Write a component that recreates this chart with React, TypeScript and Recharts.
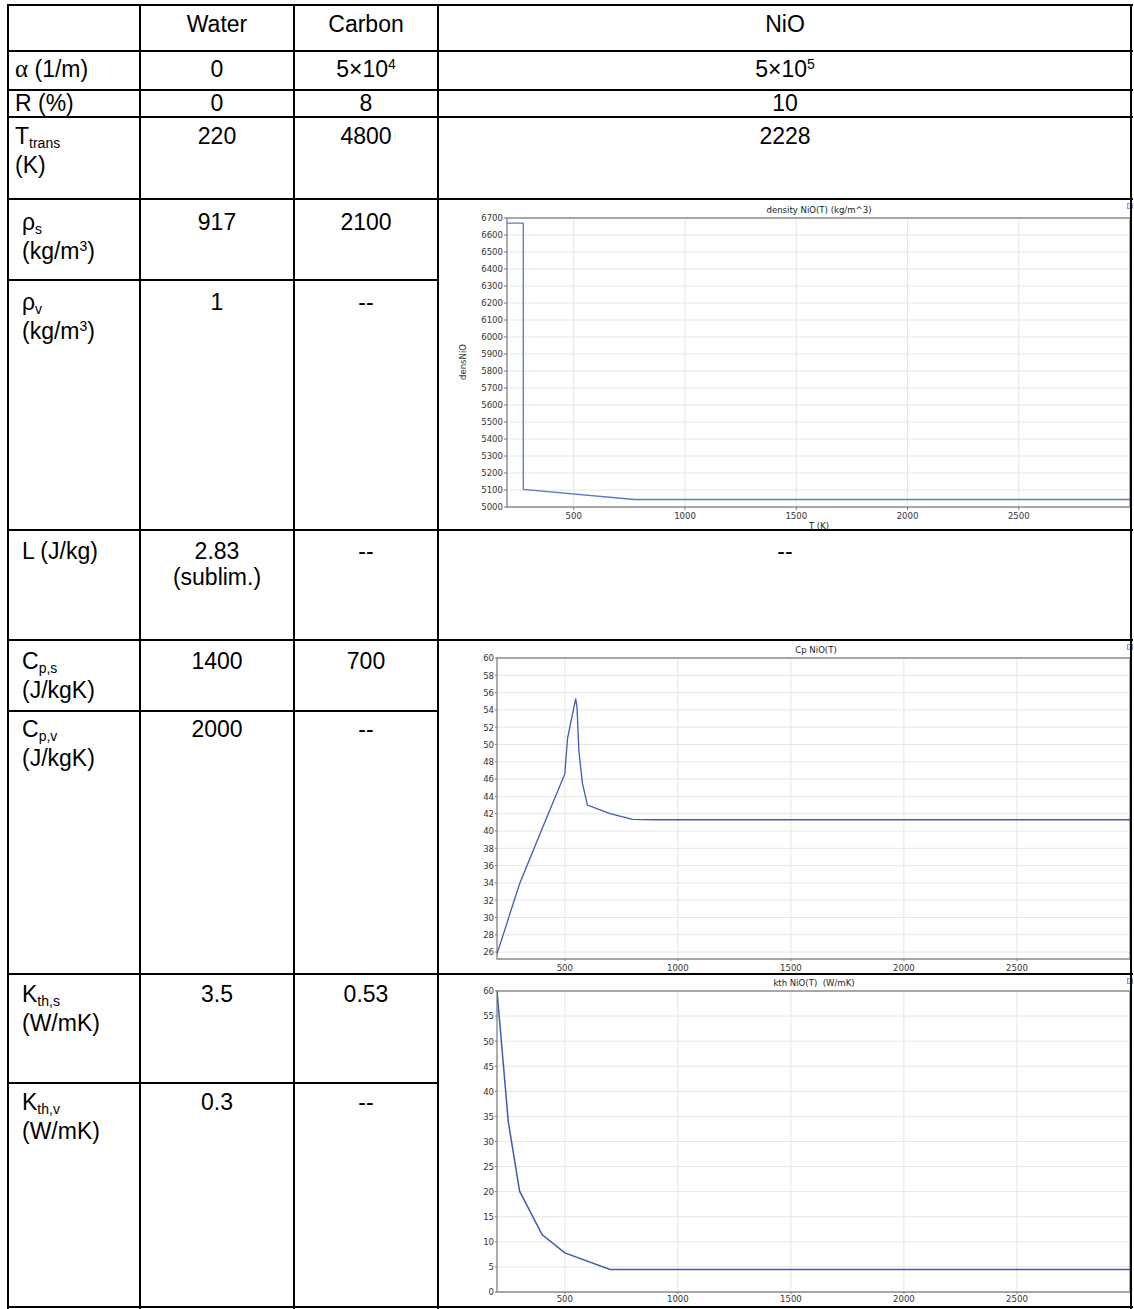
import React from 'react';
import { LineChart, Line, XAxis, YAxis, CartesianGrid, ReferenceArea } from 'recharts';

// ---------- table content ----------
const headers = ['', 'Water', 'Carbon', 'NiO'];
const rowLabels = [
  'α (1/m)',
  'R (%)',
  'T_{trans}|(K)',
  'ρ_{s}|(kg/m^{3})',
  'ρ_{v}|(kg/m^{3})',
  'L (J/kg)',
  'C_{p,s}|(J/kgK)',
  'C_{p,v}|(J/kgK)',
  'K_{th,s}|(W/mK)',
  'K_{th,v}|(W/mK)',
];
const waterValues = ['0', '0', '220', '917', '1', '2.83|(sublim.)', '1400', '2000', '3.5', '0.3'];
const carbonValues = ['5×10^{4}', '8', '4800', '2100', '--', '--', '700', '--', '0.53', '--'];
const nioValues = ['5×10^{5}', '10', '2228', '', '', '--', '', '', '', ''];

// ---------- chart data (T in K) ----------
const densityT = [200, 273, 273, 773, 3000];
const densityV = [6670, 6670, 5103, 5044, 5044];
const cpT = [200, 300, 400, 500, 512, 548, 554, 562, 578, 600, 700, 800, 900, 3000];
const cpV = [25.8, 33.9, 40.3, 46.6, 50.7, 55.3, 54.3, 49.3, 45.5, 43.0, 42.0, 41.35, 41.3, 41.3];
const kthT = [200, 250, 300, 400, 500, 700, 3000];
const kthV = [60, 33.9, 20.1, 11.4, 7.8, 4.5, 4.5];

const tTicks = [500, 1000, 1500, 2000, 2500];
const densTicks = [5000, 5100, 5200, 5300, 5400, 5500, 5600, 5700, 5800, 5900, 6000, 6100, 6200, 6300, 6400, 6500, 6600, 6700];
const cpTicks = [26, 28, 30, 32, 34, 36, 38, 40, 42, 44, 46, 48, 50, 52, 54, 56, 58, 60];
const kthTicks = [0, 5, 10, 15, 20, 25, 30, 35, 40, 45, 50, 55, 60];

const zip = (xs: number[], ys: number[]) => xs.map((T, i) => ({ T, v: ys[i] }));
const densityData = zip(densityT, densityV);
const cpData = zip(cpT, cpV);
const kthData = zip(kthT, kthV);

// ---------- layout ----------
const textTops = [55.5, 90, 122.5, 208.5, 288.5, 537.5, 647.5, 715.5, 980.5, 1088.5];
const headerTop = 10.5;
const hFull = [5, 51, 90, 117, 199, 530, 640, 974, 1307];
const hPartial = [280, 711, 1083];
const vLines = [8, 140, 294, 438, 1131];
const colCenters = [0, 217, 366, 785];
const labelX = [15, 15, 15, 22, 22, 22, 22, 22, 22, 22];

const CHART_FONT = "'DejaVu Sans Condensed', 'DejaVu Sans', sans-serif";
const LINE_COLOR = '#3d5db3';

function rich(s: string) {
  const lines = s.split('|');
  return lines.map((ln, li) => {
    const parts = ln.split(/(_\{[^}]*\}|\^\{[^}]*\}|α)/).filter((p) => p !== '');
    return (
      <div key={li} style={{ whiteSpace: 'pre' }}>
        {parts.map((p, i) => {
          if (p.startsWith('_{'))
            return (
              <span key={i} style={{ fontSize: 14, position: 'relative', top: 4 }}>
                {p.slice(2, -1)}
              </span>
            );
          if (p.startsWith('^{'))
            return (
              <span key={i} style={{ fontSize: 14, position: 'relative', top: -8 }}>
                {p.slice(2, -1)}
              </span>
            );
          if (p === 'α')
            return (
              <span key={i} style={{ fontFamily: "'Liberation Serif', 'Times New Roman', serif", fontSize: 25 }}>
                α
              </span>
            );
          return <span key={i}>{p}</span>;
        })}
      </div>
    );
  });
}

const textBase: React.CSSProperties = {
  position: 'absolute',
  fontSize: 23,
  lineHeight: '26px',
};

function CenterText({ x, top, s, w }: { x: number; top: number; s: string; w: number }) {
  return (
    <div style={{ ...textBase, left: x - w / 2, width: w, top, textAlign: 'center' }}>{rich(s)}</div>
  );
}

const tickStyle = { fontSize: 9.5, fill: '#333', fontFamily: CHART_FONT };

function Title({ x, y, text }: { x: number; y: number; text: string }) {
  return (
    <div
      style={{
        position: 'absolute',
        left: x - 150,
        width: 300,
        top: y - 7,
        textAlign: 'center',
        fontSize: 9.5,
        lineHeight: '14px',
        fontFamily: CHART_FONT,
        color: '#222',
        whiteSpace: 'pre',
      }}
    >
      {text}
    </div>
  );
}

function Icon({ x, y }: { x: number; y: number }) {
  return (
    <div
      style={{
        position: 'absolute',
        left: x,
        top: y,
        width: 4,
        height: 4,
        border: '1px solid #7f9fd0',
        background: '#dfe8f6',
      }}
    />
  );
}

export default function App() {
  return (
    <div
      style={{
        position: 'absolute',
        left: 0,
        top: 0,
        width: 1134,
        height: 1309,
        background: '#fff',
        fontFamily: "'Liberation Sans', Arial, sans-serif",
        color: '#000',
        overflow: 'hidden',
      }}
    >
      {/* charts */}
      <div style={{ position: 'absolute', left: 440, top: 201 }}>
        <LineChart width={692} height={329} data={densityData} margin={{ top: 17, right: 2, bottom: 0, left: 0 }}>
          <CartesianGrid stroke="#e6e6e6" />
          <XAxis
            type="number"
            dataKey="T"
            domain={[200, 3000]}
            ticks={tTicks}
            interval={0}
            allowDataOverflow
            height={23}
            tick={tickStyle}
            tickSize={3}
            tickMargin={2}
            axisLine={false}
            stroke="#777"
          />
          <YAxis
            type="number"
            domain={[5000, 6700]}
            ticks={densTicks}
            interval={0}
            allowDataOverflow
            width={67}
            tick={tickStyle}
            tickSize={3}
            tickMargin={1}
            axisLine={false}
            stroke="#777"
          />
          <ReferenceArea x1={200} x2={3000} y1={5000} y2={6700} fill="none" stroke="#8f8f8f" strokeWidth={1.4} />
          <Line type="linear" dataKey="v" stroke="#5a7ac8" strokeWidth={1.3} dot={false} isAnimationActive={false} />
        </LineChart>
      </div>

      <div style={{ position: 'absolute', left: 440, top: 641 }}>
        <LineChart width={692} height={333} data={cpData} margin={{ top: 17, right: 2, bottom: 0, left: 0 }}>
          <CartesianGrid stroke="#e6e6e6" />
          <XAxis
            type="number"
            dataKey="T"
            domain={[200, 3000]}
            ticks={tTicks}
            interval={0}
            allowDataOverflow
            height={15}
            tick={tickStyle}
            tickSize={2}
            tickMargin={3}
            axisLine={false}
            stroke="#777"
          />
          <YAxis
            type="number"
            domain={[25.2, 60]}
            ticks={cpTicks}
            interval={0}
            allowDataOverflow
            width={57}
            tick={tickStyle}
            tickSize={2}
            tickMargin={1}
            axisLine={false}
            stroke="#777"
          />
          <ReferenceArea x1={200} x2={3000} y1={25.2} y2={60} fill="none" stroke="#8f8f8f" strokeWidth={1.4} />
          <Line type="linear" dataKey="v" stroke={LINE_COLOR} strokeWidth={1.3} dot={false} isAnimationActive={false} />
        </LineChart>
      </div>

      <div style={{ position: 'absolute', left: 440, top: 976 }}>
        <LineChart width={692} height={332} data={kthData} margin={{ top: 15, right: 2, bottom: 0, left: 0 }}>
          <CartesianGrid stroke="#e6e6e6" />
          <XAxis
            type="number"
            dataKey="T"
            domain={[200, 3000]}
            ticks={tTicks}
            interval={0}
            allowDataOverflow
            height={16}
            tick={tickStyle}
            tickSize={2}
            tickMargin={1}
            axisLine={false}
            stroke="#777"
          />
          <YAxis
            type="number"
            domain={[0, 60]}
            ticks={kthTicks}
            interval={0}
            allowDataOverflow
            width={57}
            tick={tickStyle}
            tickSize={2}
            tickMargin={1}
            axisLine={false}
            stroke="#777"
          />
          <ReferenceArea x1={200} x2={3000} y1={0} y2={60} fill="none" stroke="#8f8f8f" strokeWidth={1.4} />
          <Line type="linear" dataKey="v" stroke={LINE_COLOR} strokeWidth={1.5} dot={false} isAnimationActive={false} />
        </LineChart>
      </div>

      {/* chart titles and axis labels */}
      <Title x={819} y={210} text="density NiO(T) (kg/m^3)" />
      <Title x={819} y={526} text="T (K)" />
      <div
        style={{
          position: 'absolute',
          left: 463 - 30,
          top: 362 - 7,
          width: 60,
          textAlign: 'center',
          fontSize: 9.5,
          lineHeight: '14px',
          fontFamily: CHART_FONT,
          color: '#333',
          transform: 'rotate(-90deg)',
        }}
      >
        densNiO
      </div>
      <Title x={816} y={650} text="Cp NiO(T)" />
      <Title x={814} y={983} text="kth NiO(T)  (W/mK)" />
      <Icon x={1127} y={203} />
      <Icon x={1127} y={644} />
      <Icon x={1127} y={978} />

      {/* table lines */}
      {hFull.map((y, i) => (
        <div key={'hf' + i} style={{ position: 'absolute', left: 7, width: 1126, top: y - 1, height: 2, background: '#000' }} />
      ))}
      {hPartial.map((y, i) => (
        <div key={'hp' + i} style={{ position: 'absolute', left: 7, width: 432, top: y - 1, height: 2, background: '#000' }} />
      ))}
      {vLines.map((x, i) => (
        <div key={'v' + i} style={{ position: 'absolute', left: x - 1, width: 2, top: 4, height: 1305, background: '#000' }} />
      ))}

      {/* header */}
      {headers.map((h, i) =>
        i === 0 ? null : <CenterText key={'h' + i} x={colCenters[i]} top={headerTop} s={h} w={i === 3 ? 600 : 150} />
      )}

      {/* rows */}
      {rowLabels.map((lab, r) => (
        <div key={'l' + r} style={{ ...textBase, left: labelX[r], top: textTops[r] }}>
          {rich(lab)}
        </div>
      ))}
      {waterValues.map((v, r) => (
        <CenterText key={'w' + r} x={colCenters[1]} top={textTops[r]} s={v} w={150} />
      ))}
      {carbonValues.map((v, r) => (
        <CenterText key={'c' + r} x={colCenters[2]} top={textTops[r]} s={v} w={140} />
      ))}
      {nioValues.map((v, r) =>
        v ? <CenterText key={'n' + r} x={colCenters[3]} top={textTops[r]} s={v} w={600} /> : null
      )}
    </div>
  );
}
